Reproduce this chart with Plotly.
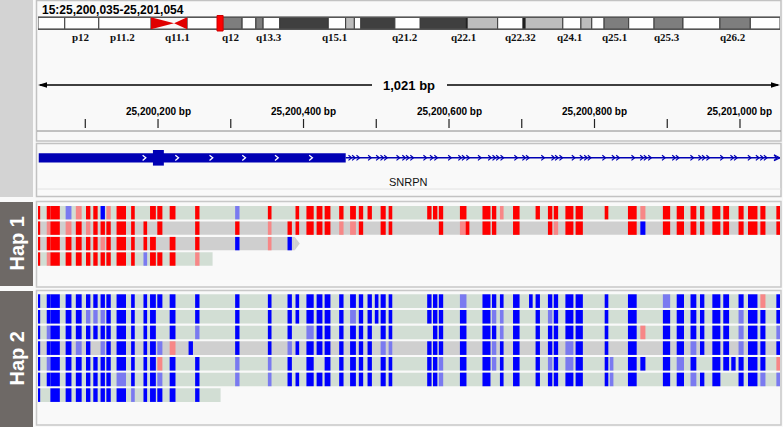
import plotly.graph_objects as go

# ---------------- data ----------------
START = 25200035
END = 25201054
LOCUS = "15:25,200,035-25,201,054"
SPAN_LABEL = "1,021 bp"

RULER_TICKS = [25200100, 25200200, 25200300, 25200400, 25200500,
               25200600, 25200700, 25200800, 25200900, 25201000]
RULER_LABELS = ["", "25,200,200 bp", "", "25,200,400 bp", "", "25,200,600 bp",
                "", "25,200,800 bp", "", "25,201,000 bp"]

# chromosome 15 ideogram (Mb)
CHR_LEN = 102.5
VIEW_MB = 25.15
CEN = [15.6, 18.8, 20.6]
BAND_START = [0.0, 3.7, 8.4, 20.6, 25.0, 28.2, 30.1, 31.1, 33.4, 40.1, 42.5, 43.7, 44.6, 49.3, 52.8,
              59.1, 59.3, 63.5, 67.0, 67.3, 72.5, 75.0, 76.5, 78.2, 81.6, 85.1, 89.1, 94.2, 98.4]
BAND_END = [3.7, 8.4, 15.6, 25.0, 28.2, 30.1, 31.1, 33.4, 40.1, 42.5, 43.7, 44.6, 49.3, 52.8, 59.1,
            59.3, 63.5, 67.0, 67.3, 72.5, 75.0, 76.5, 78.2, 81.6, 85.1, 89.1, 94.2, 98.4, 102.5]
BAND_STAIN = ["gneg", "gneg", "gneg", "gneg", "gpos50", "gneg", "gpos50", "gneg", "gpos75", "gneg",
              "gpos25", "gneg", "gpos75", "gneg", "gpos75", "gpos100", "gpos25", "gneg", "gpos100",
              "gpos25", "gneg", "gpos25", "gneg", "gpos50", "gneg", "gpos50", "gneg", "gpos50", "gneg"]
BAND_LABELS = ["p12", "p11.2", "q11.1", "q12", "q13.3", "q15.1", "q21.2", "q22.1", "q22.32",
               "q24.1", "q25.1", "q25.3", "q26.2"]
BAND_LABEL_MB = [5.9, 11.7, 19.3, 26.7, 31.9, 41.0, 50.7, 58.8, 66.6, 73.4, 79.6, 86.9, 96.0]

# gene
GENE_NAME = "SNRPN"
UTR = (25200035, 25200458)
CDS = (25200193, 25200208)
GENE_END = 25201054
UTR_ARROWS_OFF = [146, 191, 238, 283, 328, 375]
INTRON_ARROWS_OFF = [429, 434, 440, 456, 467, 473, 478, 495, 503, 508, 514, 532, 541, 547, 566,
                     580, 585, 591, 607, 621, 627, 632, 638, 657, 668, 673, 694, 708, 713, 719,
                     736, 747, 753, 758, 778, 791, 797, 818, 830, 835, 841, 860, 874, 879, 899,
                     910, 915, 921, 940, 954, 959, 978, 989, 995, 1000, 1014]

# variant columns (bp offset from START)
COL_START = [0, 12, 17, 38, 52, 66, 76, 86, 94, 108, 128, 145, 154, 164, 181, 207, 216, 271, 316, 343,
             354, 369, 383, 394, 414, 429, 441, 453, 463, 471, 482,
             535, 543, 551, 580, 588, 611, 624, 635, 653, 675, 684, 701, 709, 725, 739, 779, 786, 811,
             828, 859, 878, 897, 910, 927, 942, 953, 963, 976, 993, 1015]
COL_END = [2, 16, 29, 45, 59, 71, 81, 91, 99, 120, 132, 149, 161, 170, 188, 212, 221, 276, 320, 348,
           358, 378, 390, 401, 419, 436, 446, 458, 467, 477, 486,
           540, 548, 556, 588, 592, 621, 629, 639, 661, 679, 689, 706, 714, 735, 748, 783, 790, 822,
           834, 868, 887, 904, 915, 937, 949, 958, 969, 988, 999, 1020]

# R red, r light red, B blue, b light blue, . none
HAP1_ROWS = [
    "RRRbrRRBrRR.RRR.RbR.RRRRRRRR.RR" + "RRRR.RRrR.RRRRRR.RrRRRRRR.RRRR",
    "RrRrRrRRRRRR.R..RRrRRRRRrrR..RR" + "..RrRRR.R..RrRR..RBRRRRRR.RRRR",
    "RRRRRRRrRRRRR.R.RBrB..........." + "..............................",
    "RrRRRRRRRRRbRRR.r.............." + "..............................",
]
HAP1_ROW_END = [1020, 1020, 352, 239]
HAP1_ROW_BG = ["green", "gray", "gray", "green"]
HAP1_ROW_ARROW = [False, False, True, False]

HAP2_ROWS = [
    "BBBBBBBBBBBBBBB.BBBBBBBBBBBBBBB" + "BBBb.BBBBBBBBBBB.B.bBBBBB.BBrB",
    "BBBBBbbbBBBBB.B.BBBBBBBBBbBBBBB" + "BBBB.BbbB.BbBBBB.B.BBBBBB.bBBB",
    "BbBBBBBBBBBBB.B.bBBB.bBBBBBB.BB" + ".BBB.BBbB.BBBBBB.BrBBBBBB.bBBb",
    "BBBBbB.bBBBBBbrB.BBbBBBBBBBB.bb" + "BBBB.BbBB.BBBbBB.B.BBbBBB.bBBB",
    "BbBBBBBBBBBBBrB.BbbB.B.BBBBB.BB" + "BBbB.BbBB.BbBbBBbBBBbB.BBBBBBr",
    "BBBBBBBBBbBBBbB.BbbBBBBBBBBB.BB" + "BBbB.B.BB.BBBBBBbB.BBbBB..BBbb",
    "B.BBBBBBBBbBBBB.B.............." + "..............................",
]
HAP2_ROW_END = [1020, 1020, 1020, 1020, 1020, 1020, 250]
HAP2_ROW_BG = ["green", "green", "green", "gray", "green", "green", "green"]

# ---------------- style ----------------
W, H = 783, 427
X0_PX, X1_PX = 38, 780
BP_PER_PX = (END + 1 - START) / (X1_PX - X0_PX)
MARK_COLORS = {"R": "#ff0000", "r": "#f78787", "B": "#0000ff", "b": "#7a7af0"}
ROW_BG = {"green": "#d2ded4", "gray": "#cfcfcf"}
STAIN_COLORS = {"gneg": "#ffffff", "gpos25": "#bdbdbd", "gpos50": "#7e7e7e",
                "gpos75": "#3f3f3f", "gpos100": "#000000"}
GENE_BLUE = "#0000b4"
SANS = "Liberation Sans, Arial, sans-serif"
SERIF = "Liberation Serif, Times New Roman, serif"

shapes = []
anns = []


def px(xref, v):
    # "px" decorations live on the paper (margins are zero)
    return ("paper", v / W) if xref == "px" else (xref, v)


def rect(xref, x0, x1, y0, y1, fill="rgba(0,0,0,0)", lc=None, lw=0):
    r, a = px(xref, x0)
    _, b = px(xref, x1)
    shapes.append(dict(type="rect", xref=r, yref="y", x0=a, x1=b, y0=y0, y1=y1,
                       fillcolor=fill, line=dict(width=lw, color=lc or "rgba(0,0,0,0)")))


def line(xref, x0, x1, y0, y1, color, lw=1):
    r, a = px(xref, x0)
    _, b = px(xref, x1)
    shapes.append(dict(type="line", xref=r, yref="y", x0=a, x1=b, y0=y0, y1=y1,
                       line=dict(width=lw, color=color)))


def path(xref, pts_list, fill=None, lc=None, lw=0, close=False):
    segs = []
    for pts in pts_list:
        conv = [(px(xref, x)[1], y) for x, y in pts]
        s = "M " + " L ".join(f"{x},{y}" for x, y in conv)
        if close:
            s += " Z"
        segs.append(s)
    r = px(xref, 0)[0]
    s = dict(type="path", xref=r, yref="y", path=" ".join(segs),
             line=dict(width=lw, color=lc or "rgba(0,0,0,0)"))
    if fill:
        s["fillcolor"] = fill
    shapes.append(s)


def text(xref, x, y, t, size, color="#000", family=SANS, weight="normal", xanchor="center", angle=0):
    r, a = px(xref, x)
    anns.append(dict(xref=r, yref="y", x=a, y=y, text=t, showarrow=False, xanchor=xanchor,
                     yanchor="middle", textangle=angle,
                     font=dict(size=size, color=color, family=family, weight=weight)))


# ---------------- frame ----------------
rect("px", 0, 33, 0, 197, "#d3d3d3")
rect("px", 0, 33, 202, 286, "#6e6966")
rect("px", 0, 33, 291, 427, "#6e6966")
rect("px", 36.5, 781, 0.5, 141, lc="#c2c2c2", lw=1.5)
rect("px", 36.5, 781, 143.5, 196.5, lc="#c2c2c2", lw=1.5)
line("px", 37, 781, 189, 189, "#e2e2e2", 1)
line("px", 37, 781, 131, 131, "#8a8a8a", 1)
rect("px", 36.5, 781, 201.5, 287, lc="#c8c8c8", lw=1.5)
rect("px", 36.5, 781, 290.5, 425, lc="#c8c8c8", lw=1.5)
text("px", 16.5, 244, "Hap 1", 20, "#ffffff", weight="bold", angle=-90)
text("px", 16.5, 359, "Hap 2", 20, "#ffffff", weight="bold", angle=-90)

# ---------------- ideogram ----------------
text("px", 40, 9.5, LOCUS, 12, weight="bold", xanchor="left")
IY0, IY1 = 17.3, 29.3
for s, e, st in zip(BAND_START, BAND_END, BAND_STAIN):
    rect("x3", s, e, IY0, IY1, STAIN_COLORS[st], lc="#3a3a3a", lw=1)
line("x3", 0, CHR_LEN, IY0, IY0, "#555555", 1.5)
line("x3", 0, CHR_LEN, IY1, IY1, "#555555", 1.5)
ym = (IY0 + IY1) / 2
path("x3", [[(CEN[0], IY0), (CEN[1], ym), (CEN[0], IY1)]], fill="#e00000", close=True)
path("x3", [[(CEN[2], IY0), (CEN[1], ym), (CEN[2], IY1)]], fill="#e00000", close=True)
rect("x3", VIEW_MB - 0.42, VIEW_MB + 0.42, 15.5, 31, "#ff0000", lc="#cc0000", lw=1)
for lab, mb in zip(BAND_LABELS, BAND_LABEL_MB):
    text("x3", mb, 36.5, lab, 11, "#111", family=SERIF, weight="bold")

# ---------------- ruler ----------------
text("px", 409, 85, SPAN_LABEL, 13, weight="bold")
line("px", 40, 372, 85, 85, "#000", 1.3)
line("px", 447, 778, 85, 85, "#000", 1.3)
path("px", [[(38, 85), (47, 82.3), (47, 87.7)]], fill="#000", close=True)
path("px", [[(780, 85), (771, 82.3), (771, 87.7)]], fill="#000", close=True)
for tk, lab in zip(RULER_TICKS, RULER_LABELS):
    line("x", tk, tk, 119, 128, "#222", 1.2)
    if lab:
        text("x", tk, 111, lab, 10, weight="bold")

# ---------------- gene ----------------
GY = 157.8
line("x", UTR[1], GENE_END + 1, GY, GY, GENE_BLUE, 1.5)
rect("x", UTR[0] + 1, UTR[1], GY - 4.6, GY + 4.6, GENE_BLUE)
rect("x", CDS[0], CDS[1], GY - 7.8, GY + 7.8, GENE_BLUE)
a = 1.6 * BP_PER_PX


def chevrons(offs, h):
    return [[(START + o - a, GY - h), (START + o + a, GY), (START + o - a, GY + h)] for o in offs]


path("x", chevrons(UTR_ARROWS_OFF, 2.6), lc="#ffffff", lw=1.3)
path("x", chevrons(INTRON_ARROWS_OFF, 2.6), lc=GENE_BLUE, lw=1.2)
path("x", [[(END + 1 - 6 * BP_PER_PX, GY - 3), (END + 1, GY), (END + 1 - 6 * BP_PER_PX, GY + 3)]],
     lc=GENE_BLUE, lw=1.2)
text("x", (START + END) / 2, 182, GENE_NAME, 11, "#111")


# ---------------- haplotype reads ----------------
def draw_rows(rows, ends, bgs, top, step, height, arrows=None):
    for i, (codes, end, bg) in enumerate(zip(rows, ends, bgs)):
        y0 = top + i * step
        y1 = y0 + height
        rect("x", START, START + end + 1, y0, y1, ROW_BG[bg])
        if arrows and arrows[i]:
            xe = START + end + 1
            path("x", [[(xe, y0), (xe + 5 * BP_PER_PX, (y0 + y1) / 2), (xe, y1)]],
                 fill=ROW_BG[bg], close=True)
        for c, cs, ce in zip(codes, COL_START, COL_END):
            if c in MARK_COLORS and cs <= end:
                rect("x", START + cs, START + min(ce, end) + 1, y0, y1, MARK_COLORS[c])


draw_rows(HAP1_ROWS, HAP1_ROW_END, HAP1_ROW_BG, 206, 15.45, 13.4, HAP1_ROW_ARROW)
draw_rows(HAP2_ROWS, HAP2_ROW_END, HAP2_ROW_BG, 294.3, 15.67, 13.6)

# ---------------- figure ----------------
fig = go.Figure()
for xa in ["x", "x3"]:
    fig.add_trace(go.Scatter(x=[None], y=[None], xaxis=xa, yaxis="y", mode="markers",
                             showlegend=False, hoverinfo="skip"))
dom = [X0_PX / W, X1_PX / W]
fig.update_layout(
    width=W, height=H, margin=dict(l=0, r=0, t=0, b=0, pad=0),
    paper_bgcolor="#f9f9f9", plot_bgcolor="rgba(0,0,0,0)", showlegend=False,
    xaxis=dict(domain=dom, range=[START, END + 1], visible=False, fixedrange=True),
    xaxis3=dict(domain=dom, range=[0, CHR_LEN], visible=False, anchor="y", fixedrange=True),
    yaxis=dict(domain=[0, 1], range=[H, 0], visible=False, fixedrange=True),
    shapes=shapes, annotations=anns,
)
fig.write_html("out.html", config={"displayModeBar": False},
               post_script="document.body.style.margin='0';document.body.style.overflow='hidden';")
